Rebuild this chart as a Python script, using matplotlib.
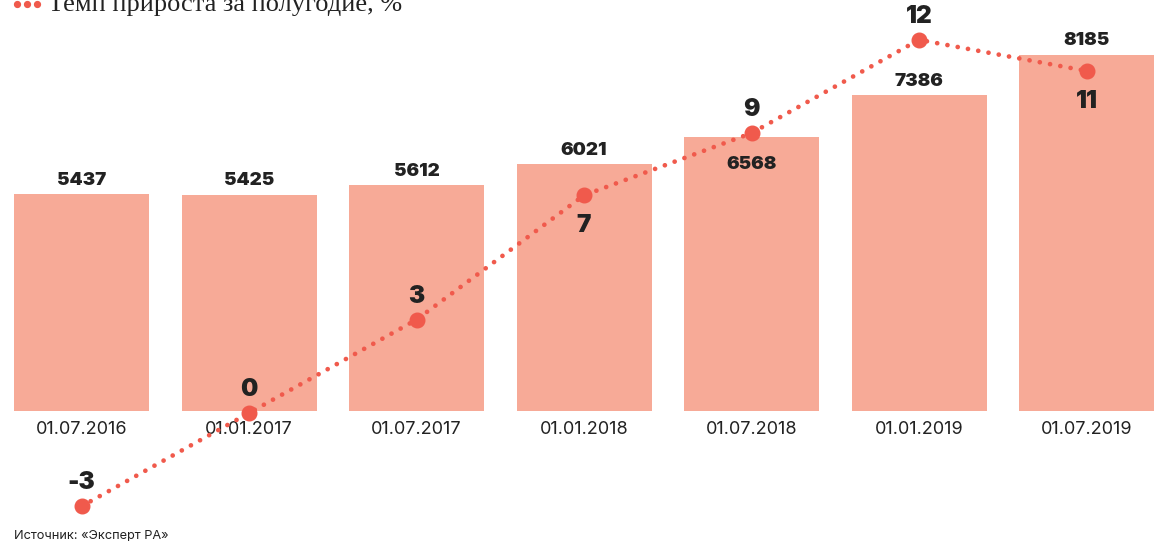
import matplotlib
matplotlib.use('Agg')
import matplotlib.pyplot as plt
import matplotlib.transforms as mtransforms
from matplotlib.lines import Line2D
import numpy as np

# data
dates = ['01.07.2016', '01.01.2017', '01.07.2017', '01.01.2018',
         '01.07.2018', '01.01.2019', '01.07.2019']
volumes = [5437, 5425, 5612, 6021, 6568, 7386, 8185]
growth = [-3, 0, 3, 7, 9, 12, 11]
growth_label_below = [False, False, False, True, False, False, True]
volume_label_inside = [False, False, False, False, True, False, False]

BAR_COLOR = '#f7aa97'
LINE_COLOR = '#f05a4c'
TEXT_COLOR = '#222222'
BOLD_FONT = ['Inter', 'DejaVu Sans']

W, H = 1159, 542
fig = plt.figure(figsize=(W / 100, H / 100), dpi=100)
ax = fig.add_axes([0, 0, 1, 1])
ax.set_axis_off()

x = np.arange(len(dates))
ax.set_xlim(-81.5 / 167.5, (W - 81.5) / 167.5)

# bar scale: baseline sits at pixel row 411
base = 1148
per_px = 19.76
ax.set_ylim(base - (H - 411) * per_px, base + 411 * per_px)

ax.bar(x, np.array(volumes) - base, bottom=base, width=135 / 167.5,
       color=BAR_COLOR, zorder=1)

for xi, v, inside in zip(x, volumes, volume_label_inside):
    off = -20 if inside else 10
    ax.annotate(str(v), (xi, v), xytext=(0, off), textcoords='offset points',
                ha='center', va='center', fontsize=13.5, fontweight=900,
                family=BOLD_FONT, color=TEXT_COLOR, zorder=5)

# date labels under the bars
trans = mtransforms.blended_transform_factory(ax.transData, ax.transAxes)
for xi, d in zip(x, dates):
    ax.text(xi, 1 - 429 / H, d, transform=trans, ha='center', va='center',
            fontsize=13, family='Inter', color=TEXT_COLOR, zorder=5)

# growth line on its own scale
ax2 = ax.twinx()
ax2.set_axis_off()
ax2.set_position([0, 0, 1, 1])
zero_px, unit_px = 413, 31.1
ax2.set_ylim(-(H - zero_px) / unit_px, zero_px / unit_px)

ax2.plot(x, growth, color=LINE_COLOR, lw=3.4, linestyle=(0, (0.01, 2.2)),
         dash_capstyle='round', zorder=3)
ax2.plot(x, growth, 'o', color=LINE_COLOR, markersize=10.5, zorder=4)

for xi, g, below in zip(x, growth, growth_label_below):
    off = -22 if below else 17
    ax2.annotate(str(g), (xi, g), xytext=(0, off), textcoords='offset points',
                 ha='center', va='center', fontsize=17.5, fontweight=900,
                 family=BOLD_FONT, color=TEXT_COLOR, zorder=5)

# legend, cut by the top edge as in the source
fig.add_artist(Line2D([17 / W, 27 / W, 37 / W], [1 - 4 / H] * 3,
                      transform=fig.transFigure, linestyle='none',
                      marker='o', markersize=4.2, color=LINE_COLOR))
fig.text(48 / W, 1 - 11 / H, 'Темп прироста за полугодие, %', ha='left',
         va='baseline', fontsize=19, family='Liberation Serif', color=TEXT_COLOR)

fig.text(14 / W, 1 - 539 / H, 'Источник: «Эксперт РА»', ha='left',
         va='baseline', fontsize=9.2, family='Inter', color=TEXT_COLOR)

fig.savefig('out.png', dpi=100, facecolor='white')
